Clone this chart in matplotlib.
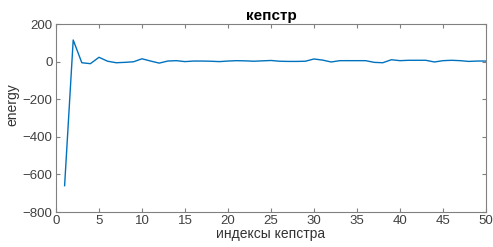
import matplotlib
matplotlib.use("Agg")
import matplotlib.pyplot as plt

plt.rcParams['font.family'] = ['Liberation Sans', 'DejaVu Sans']

x_idx = list(range(1, 51))
energy = [-660, 115, -6, -11, 23, 2, -6, -4, -1, 15,
          3, -8, 3, 5, 0, 3, 3, 2, 0, 3,
          5, 4, 2, 4, 6, 2, 1, 1, 2, 14,
          8, -2, 5, 5, 5, 5, -4, -6, 10, 5,
          7, 7, 7, -2, 5, 7, 5, 1, 3, 3]
xticks = [0, 5, 10, 15, 20, 25, 30, 35, 40, 45, 50]
yticks = [-800, -600, -400, -200, 0, 200]

fig = plt.figure(figsize=(4.93, 2.47), dpi=100)
ax = fig.add_axes([0.1136, 0.1417, 0.8722, 0.7611])
ax.plot(x_idx, energy, color='#0072BD', linewidth=1.0)
ax.set_xlim(0, 50)
ax.set_ylim(-800, 200)
ax.set_xticks(xticks)
ax.set_yticks(yticks)
ax.tick_params(direction='in', length=3, width=0.8, colors='#808080',
               labelcolor='#404040', labelsize=9.5, top=True, right=True, pad=2.5)
for s in ax.spines.values():
    s.set_color('#808080')
    s.set_linewidth(0.8)
ax.set_xlabel('индексы кепстра', fontsize=10, color='#333333', labelpad=0)
ax.set_ylabel('energy', fontsize=10, color='#333333')
ax.yaxis.set_label_coords(-0.085, 0.57)
ax.set_title('кепстр', fontsize=11, fontweight='bold', color='#000000', pad=3)
fig.savefig('out.png', dpi=100)
